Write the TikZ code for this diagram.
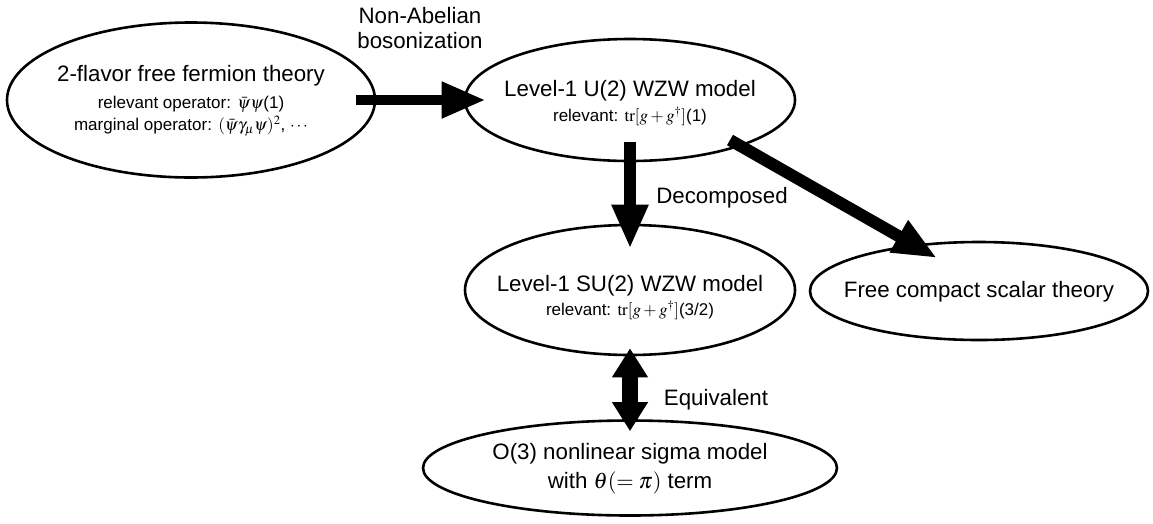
\documentclass[tikz,border=0pt]{standalone}
\usepackage{mathptmx}
\usepackage[no-math]{fontspec}
\setmainfont{Liberation Sans}
\usetikzlibrary{arrows.meta,shapes.geometric}
\begin{document}
\begin{tikzpicture}[x=1pt,y=-1pt,
  oval/.style={draw,ellipse,line width=2.6pt,inner sep=0pt},
  tmain/.style={inner sep=0pt,font=\fontsize{22.3}{25}\selectfont,align=center},
  tsmall/.style={inner sep=0pt,font=\fontsize{17}{19}\selectfont,text height=12pt,text depth=3pt},
  bigarrow/.style={line width=12pt,-{Triangle[length=44pt,width=34pt]}},
  dblarrow/.style={line width=16pt,{Triangle[length=29pt,width=34pt]}-{Triangle[length=29pt,width=34pt]}}]
\useasboundingbox (0,0) rectangle (1153,523);
% ellipses
\node[oval,minimum width=368pt,minimum height=155pt] (A) at (191,100) {};
\node[oval,minimum width=330pt,minimum height=122pt] (B) at (630,100) {};
\node[oval,minimum width=330pt,minimum height=130pt] (C) at (630,290) {};
\node[oval,minimum width=338pt,minimum height=98pt] (D) at (979,291) {};
\node[oval,minimum width=414pt,minimum height=95pt] (E) at (630,468) {};
% texts
\node[tmain] (A1) at (191,76) {2-flavor free fermion theory};
\node[tsmall] (A2) at (191,103.5) {relevant operator: $\bar\psi\psi$(1)};
\node[tsmall] (A3) at (191,126) {marginal operator: $(\bar\psi\gamma_\mu\psi)^2$, $\cdots$};
\node[tmain] (B1) at (630,91) {Level-1 U(2) WZW model};
\node[tsmall] (B2) at (630,117) {relevant: $\mathrm{tr}[g+g^\dagger]$(1)};
\node[tmain] (C1) at (630,286) {Level-1 SU(2) WZW model};
\node[tsmall] (C2) at (630,311) {relevant: $\mathrm{tr}[g+g^\dagger]$(3/2)};
\node[tmain] (D1) at (979,292) {Free compact scalar theory};
\node[tmain] (E1) at (630,454) {O(3) nonlinear sigma model};
\node[tmain] (E2) at (630,483) {with $\theta(=\pi)$ term};
% labels
\node[tmain] (L1) at (420,28) {Non-Abelian\\bosonization};
\node[tmain] (L2) at (722,198) {Decomposed};
\node[tmain] (L3) at (716,400) {Equivalent};
% arrows
\draw[bigarrow,line width=10.5pt] ([shift={(-20,0)}]A.east) -- ([shift={(22,0)}]B.west);
\draw[bigarrow] ([shift={(0,-20)}]B.south) -- ([shift={(0,25)}]C.north);
\draw[bigarrow] ([shift={(100,40)}]B.center) -- ([shift={(-42,-33)}]D.center);
\draw[dblarrow] ([shift={(0,-8)}]C.south) -- ([shift={(0,12)}]E.north);
\end{tikzpicture}
\end{document}
